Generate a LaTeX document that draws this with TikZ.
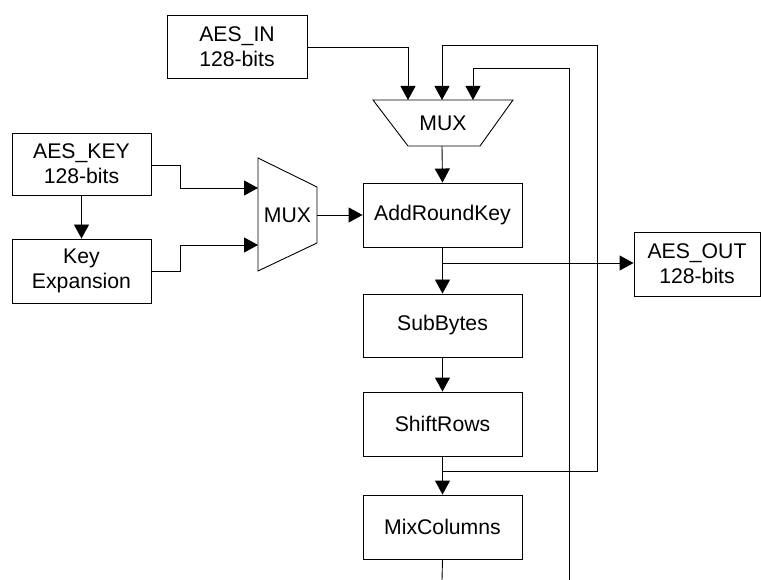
\documentclass[tikz,border=0pt]{standalone}
\usepackage{fontspec}
\setmainfont{Liberation Sans}
\usetikzlibrary{arrows.meta}
\begin{document}
\begin{tikzpicture}[x=1pt,y=-1pt,
  blk/.style={draw,line width=0.9pt,minimum width=159pt,minimum height=64pt,inner sep=0pt,align=center,font=\fontsize{21.2}{25}\selectfont},
  sblk/.style={blk,minimum width=140pt},
  lbl/.style={inner sep=0pt,font=\fontsize{21.2}{25}\selectfont},
  wire/.style={line width=0.9pt},
  arr/.style={wire,-{Triangle[width=15pt,length=14pt]}}]
\useasboundingbox (0,0) rectangle (761,580);
% boxes
\node[sblk,minimum height=63pt] (in) at (237,46.5) {AES\_IN\\128-bits};
\node[sblk,minimum height=62pt,minimum width=139pt] (key) at (81.5,164) {AES\_KEY\\128-bits};
\node[sblk,minimum width=139pt] (kexp) at (81.5,271) {Key\\Expansion};
\node[blk] (ark) at (442.5,215) {AddRoundKey};
\node[blk,minimum height=63pt] (sb) at (442.5,325.5) {SubBytes};
\node[blk] (sr) at (442.5,424) {ShiftRows};
\node[blk] (mc) at (442.5,527) {MixColumns};
\node[blk,minimum width=126pt] (out) at (697,264) {AES\_OUT\\128-bits};
% muxes
\draw[wire] (373,100) -- (513,100) -- (480,146) -- (408,146) -- cycle;
\node[lbl] (mux1) at (443,123) {MUX};
\draw[wire] (258,158) -- (317,187) -- (317,243) -- (258,271) -- cycle;
\node[lbl] (mux2) at (287.5,215) {MUX};
% coordinates
\coordinate (m1a) at (408,100);
\coordinate (m1b) at (442,100);
\coordinate (m1c) at (473,100);
\coordinate (m1o) at (442,146);
\coordinate (m2a) at (258,188);
\coordinate (m2b) at (258,245);
\coordinate (m2o) at (317,215);
\coordinate (brA) at (442,263);
\coordinate (brS) at (442,471);
\coordinate (botM) at (442,580);
\coordinate (botL) at (569,580);
% connectors
\draw[arr] (in.east |- 0,47) -| (m1a);
\draw[arr] (brS) -- (597,471) -- (597,45) -| (m1b);
\draw[arr] (botL) -- (569,68) -| (m1c);
\draw[arr] (m1o) -- (ark.north);
\draw[arr] (key.east |- 0,165) -- (180,165) |- (m2a);
\draw[arr] (kexp.east |- 0,271) -- (180,271) |- (m2b);
\draw[arr] (key.south) -- (kexp.north);
\draw[arr] (m2o) -- (ark.west);
\draw[arr] (ark.south) -- (sb.north);
\draw[arr] (brA) -- (out.west |- brA);
\draw[arr] (sb.south) -- (sr.north);
\draw[arr] (sr.south) -- (mc.north);
\draw[wire] (mc.south) -- (botM);
\end{tikzpicture}
\end{document}
